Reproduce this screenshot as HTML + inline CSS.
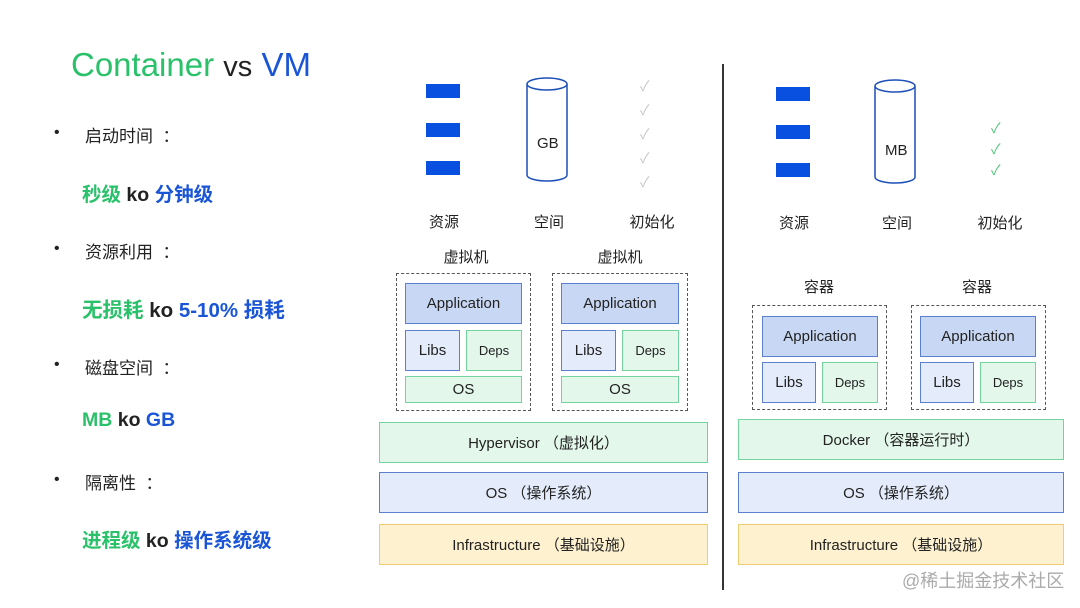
<!DOCTYPE html>
<html><head><meta charset="utf-8"><style>
body{margin:0;width:1080px;height:608px;background:#fff;position:relative;overflow:hidden;font-family:"Liberation Sans","Noto Sans CJK SC",sans-serif;color:#222}
div{position:absolute;box-sizing:border-box}
.t{white-space:nowrap}
.c{display:flex;align-items:center;justify-content:center;white-space:nowrap}
.bar{background:#0a50e0;width:34px;height:14px}
.app{background:#c8d8f4;border:1.5px solid #5b80cf;font-size:15px}
.libs{background:#e4ecfb;border:1.5px solid #5b80cf;font-size:15px}
.grn{background:#e3f7eb;border:1.5px solid #74d49e;font-size:14px}
.blu{background:#e4ecfb;border:1.5px solid #5b80cf;font-size:15px}
.yel{background:#fdf1cf;border:1.5px solid #efcc72;font-size:15px}
.dash{border:1.5px dashed #555}
.g{color:#2bc16b}.b{color:#1a55d6}
.lbl{font-size:15px;transform:translateX(-50%)}
.q{font-size:17px}
.a{font-size:19.5px;font-weight:bold}
.dot{font-size:16px}
</style></head><body>
<div class="t" style="left:71px;top:46px;font-size:33px"><span class="g">Container</span> <span style="font-size:29px">vs</span> <span class="b">VM</span></div>
<div class="t dot" style="left:54px;top:124px">•</div>
<div class="t q" style="left:85px;top:122px">启动时间&nbsp; ：</div>
<div class="t a" style="left:82px;top:178px"><span class="g">秒级</span> ko <span class="b">分钟级</span></div>
<div class="t dot" style="left:54px;top:240px">•</div>
<div class="t q" style="left:85px;top:238px">资源利用&nbsp; ：</div>
<div class="t a" style="left:82px;top:293px;font-size:20.5px"><span class="g">无损耗</span> ko <span class="b">5-10% 损耗</span></div>
<div class="t dot" style="left:54px;top:356px">•</div>
<div class="t q" style="left:85px;top:354px">磁盘空间&nbsp; ：</div>
<div class="t a" style="left:82px;top:409px"><span class="g">MB</span> ko <span class="b">GB</span></div>
<div class="t dot" style="left:54px;top:471px">•</div>
<div class="t q" style="left:85px;top:469px">隔离性&nbsp; ：</div>
<div class="t a" style="left:82px;top:524px"><span class="g">进程级</span> ko <span class="b">操作系统级</span></div>

<!-- VM side -->
<div class="bar" style="left:426px;top:84px"></div>
<div class="bar" style="left:426px;top:123px"></div>
<div class="bar" style="left:426px;top:161px"></div>
<svg style="position:absolute;left:525px;top:76px" width="46" height="110"><path d="M2 8 V99 A20 6 0 0 0 42 99 V8" fill="#fff" stroke="#1d4fb8" stroke-width="1.5"/><ellipse cx="22" cy="8" rx="20" ry="6" fill="#fff" stroke="#1d4fb8" stroke-width="1.5"/></svg>
<div class="t" style="left:537px;top:135px;font-size:15px">GB</div>
<div class="t" style="left:640px;top:74px;font-size:14px;color:#c8c8c8;line-height:24px">✓<br>✓<br>✓<br>✓<br>✓</div>
<div class="t lbl" style="left:444px;top:211px">资源</div>
<div class="t lbl" style="left:549px;top:211px">空间</div>
<div class="t lbl" style="left:652px;top:211px">初始化</div>
<div class="t lbl" style="left:466px;top:246px">虚拟机</div>
<div class="t lbl" style="left:620px;top:246px">虚拟机</div>
<div class="dash" style="left:396px;top:273px;width:135px;height:138px"></div>
<div class="c app" style="left:405px;top:283px;width:117px;height:41px">Application</div>
<div class="c libs" style="left:405px;top:330px;width:55px;height:41px">Libs</div>
<div class="c grn" style="left:466px;top:330px;width:56px;height:41px;font-size:13px">Deps</div>
<div class="c grn" style="left:405px;top:376px;width:117px;height:27px;font-size:15px">OS</div>
<div class="dash" style="left:552px;top:273px;width:136px;height:138px"></div>
<div class="c app" style="left:561px;top:283px;width:118px;height:41px">Application</div>
<div class="c libs" style="left:561px;top:330px;width:55px;height:41px">Libs</div>
<div class="c grn" style="left:622px;top:330px;width:57px;height:41px;font-size:13px">Deps</div>
<div class="c grn" style="left:561px;top:376px;width:118px;height:27px;font-size:15px">OS</div>
<div class="c grn" style="left:379px;top:422px;width:329px;height:41px;font-size:15px">Hypervisor （虚拟化）</div>
<div class="c blu" style="left:379px;top:472px;width:329px;height:41px">OS （操作系统）</div>
<div class="c yel" style="left:379px;top:524px;width:329px;height:41px">Infrastructure （基础设施）</div>

<div style="left:722px;top:64px;width:2px;height:526px;background:#333"></div>

<!-- Container side -->
<div class="bar" style="left:776px;top:87px"></div>
<div class="bar" style="left:776px;top:125px"></div>
<div class="bar" style="left:776px;top:163px"></div>
<svg style="position:absolute;left:873px;top:78px" width="46" height="110"><path d="M2 8 V99 A20 6 0 0 0 42 99 V8" fill="#fff" stroke="#1d4fb8" stroke-width="1.5"/><ellipse cx="22" cy="8" rx="20" ry="6" fill="#fff" stroke="#1d4fb8" stroke-width="1.5"/></svg>
<div class="t" style="left:885px;top:142px;font-size:15px">MB</div>
<div class="t" style="left:991px;top:118px;font-size:14px;color:#52c47a;line-height:21px">✓<br>✓<br>✓</div>
<div class="t lbl" style="left:794px;top:212px">资源</div>
<div class="t lbl" style="left:897px;top:212px">空间</div>
<div class="t lbl" style="left:1000px;top:212px">初始化</div>
<div class="t lbl" style="left:819px;top:276px">容器</div>
<div class="t lbl" style="left:977px;top:276px">容器</div>
<div class="dash" style="left:752px;top:305px;width:135px;height:105px"></div>
<div class="c app" style="left:762px;top:316px;width:116px;height:41px">Application</div>
<div class="c libs" style="left:762px;top:362px;width:54px;height:41px">Libs</div>
<div class="c grn" style="left:822px;top:362px;width:56px;height:41px;font-size:13px">Deps</div>
<div class="dash" style="left:911px;top:305px;width:135px;height:105px"></div>
<div class="c app" style="left:920px;top:316px;width:116px;height:41px">Application</div>
<div class="c libs" style="left:920px;top:362px;width:54px;height:41px">Libs</div>
<div class="c grn" style="left:980px;top:362px;width:56px;height:41px;font-size:13px">Deps</div>
<div class="c grn" style="left:738px;top:419px;width:326px;height:41px;font-size:15px">Docker （容器运行时）</div>
<div class="c blu" style="left:738px;top:472px;width:326px;height:41px">OS （操作系统）</div>
<div class="c yel" style="left:738px;top:524px;width:326px;height:41px">Infrastructure （基础设施）</div>
<div class="t" style="left:902px;top:567px;font-size:18px;color:#aaa">@稀土掘金技术社区</div>
</body></html>
